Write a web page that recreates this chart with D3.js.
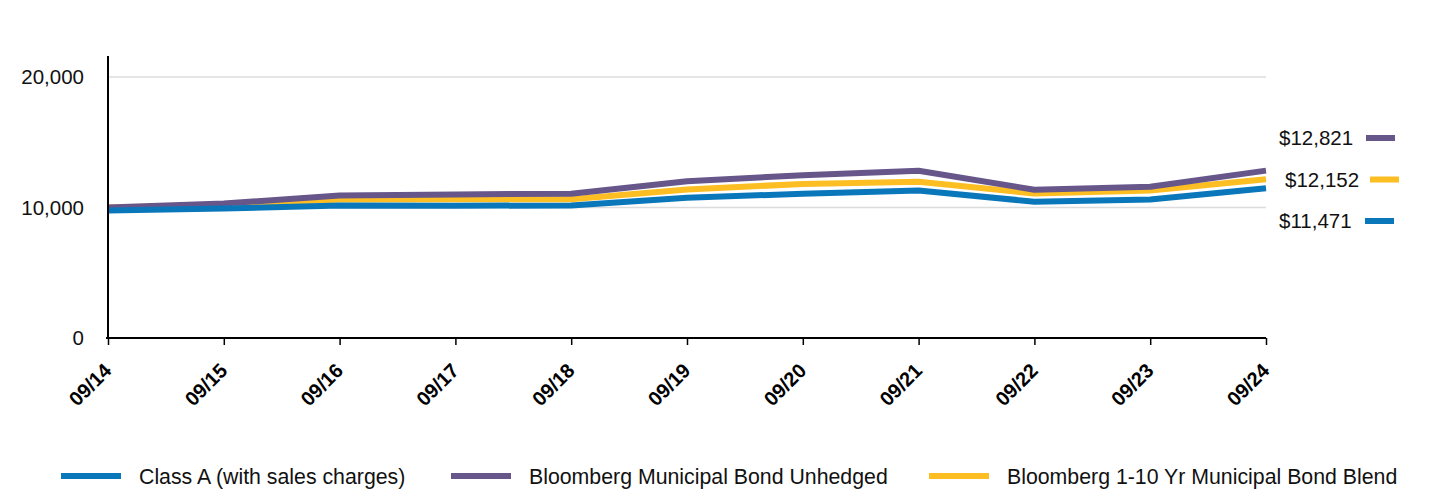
<!DOCTYPE html>
<html>
<head>
<meta charset="utf-8">
<script src="https://cdn.jsdelivr.net/npm/d3@7"></script>
<style>
  body { margin: 0; background: #fff; }
  svg { display: block; font-family: Arial, "Liberation Sans", sans-serif; }
</style>
</head>
<body>
<div id="chart"></div>
<script>
// data
var dates = ["09/14", "09/15", "09/16", "09/17", "09/18", "09/19", "09/20", "09/21", "09/22", "09/23", "09/24"];
var classA = [9775, 9920, 10150, 10130, 10150, 10740, 11050, 11290, 10440, 10610, 11471];
var unhedged = [10000, 10300, 10920, 11000, 11050, 12010, 12470, 12810, 11360, 11590, 12821];
var blend = [10000, 10180, 10610, 10630, 10630, 11380, 11800, 11960, 11070, 11290, 12152];
var yTicks = [0, 10000, 20000];
var seriesNames = ["Class A (with sales charges)", "Bloomberg Municipal Bond Unhedged", "Bloomberg 1-10 Yr Municipal Bond Blend"];
var endLabels = ["$12,821", "$12,152", "$11,471"];

var colors = { classA: "#0a77bb", unhedged: "#67568a", blend: "#fdbe23" };

var width = 1440, height = 492;
// plot box
var pLeft = 108, pRight = 1266, pTop = 56, pBottom = 338;

var svg = d3.select("#chart").append("svg")
    .attr("width", width)
    .attr("height", height);

var x = d3.scalePoint().domain(dates).range([pLeft, pRight]);
var y = d3.scaleLinear().domain([0, 21600]).range([pBottom, pTop]);

// gridlines
svg.append("g")
    .selectAll("line")
    .data(yTicks.filter(function (d) { return d > 0; }))
    .enter().append("line")
    .attr("x1", pLeft).attr("x2", pRight)
    .attr("y1", function (d) { return y(d); })
    .attr("y2", function (d) { return y(d); })
    .style("stroke", "#dcdcdc")
    .style("stroke-width", 1.5);

// y labels
svg.append("g")
    .selectAll("text")
    .data(yTicks)
    .enter().append("text")
    .attr("x", 84)
    .attr("y", function (d) { return y(d); })
    .attr("dy", "0.36em")
    .attr("text-anchor", "end")
    .style("font-size", "20.5px")
    .style("fill", "#111")
    .text(function (d) { return d3.format(",")(d); });

// lines, blend underneath, class A on top
var line = d3.line()
    .x(function (d, i) { return x(dates[i]); })
    .y(function (d) { return y(d); });

var series = [
    { key: "blend", values: blend },
    { key: "unhedged", values: unhedged },
    { key: "classA", values: classA }
];

svg.append("g")
    .selectAll("path")
    .data(series)
    .enter().append("path")
    .attr("d", function (d) { return line(d.values); })
    .style("fill", "none")
    .style("stroke", function (d) { return colors[d.key]; })
    .style("stroke-width", 6)
    .style("stroke-linejoin", "round");

// axes
var xAxis = svg.append("g")
    .attr("transform", "translate(0," + pBottom + ")")
    .call(d3.axisBottom(x).tickSize(7).tickSizeOuter(0));
xAxis.select(".domain").attr("d", "M" + (pLeft - 2) + ",0H" + pRight).style("stroke", "#000").style("stroke-width", 2);
xAxis.selectAll(".tick line").style("stroke", "#000").style("stroke-width", 1.5);
xAxis.selectAll(".tick text")
    .attr("transform", "rotate(-45)")
    .attr("text-anchor", "end")
    .attr("x", -21).attr("y", 27)
    .attr("dx", 0).attr("dy", 0)
    .style("font-family", "Arial, 'Liberation Sans', sans-serif")
    .style("font-size", "20px")
    .style("font-weight", "bold")
    .style("fill", "#000");

svg.append("line")
    .attr("x1", pLeft).attr("x2", pLeft)
    .attr("y1", pTop).attr("y2", pBottom + 1)
    .style("stroke", "#000")
    .style("stroke-width", 2);

// end labels
var endKeys = ["unhedged", "blend", "classA"];
var endG = svg.append("g")
    .selectAll("g")
    .data(endLabels)
    .enter().append("g")
    .attr("transform", function (d, i) { return "translate(0," + (138 + i * 41.5) + ")"; });
endG.append("text")
    .attr("x", function (d, i) { return [1279, 1285, 1279][i]; })
    .attr("dy", "0.36em")
    .style("font-size", "20.5px")
    .style("fill", "#111")
    .text(function (d) { return d; });
endG.append("line")
    .attr("x1", function (d, i) { return [1366, 1370, 1365][i]; })
    .attr("x2", function (d, i) { return [1395, 1399, 1394][i]; })
    .style("stroke", function (d, i) { return colors[endKeys[i]]; })
    .style("stroke-width", 6);

// legend
var legKeys = ["classA", "unhedged", "blend"];
var legX = [61, 451, 929];
var leg = svg.append("g")
    .selectAll("g")
    .data(seriesNames)
    .enter().append("g")
    .attr("transform", function (d, i) { return "translate(" + legX[i] + ",476)"; });
leg.append("line")
    .attr("x1", 0).attr("x2", 60)
    .style("stroke", function (d, i) { return colors[legKeys[i]]; })
    .style("stroke-width", 6);
leg.append("text")
    .attr("x", 78)
    .attr("dy", "0.36em")
    .style("font-size", "21.3px")
    .style("fill", "#111")
    .text(function (d) { return d; });
</script>
</body>
</html>
